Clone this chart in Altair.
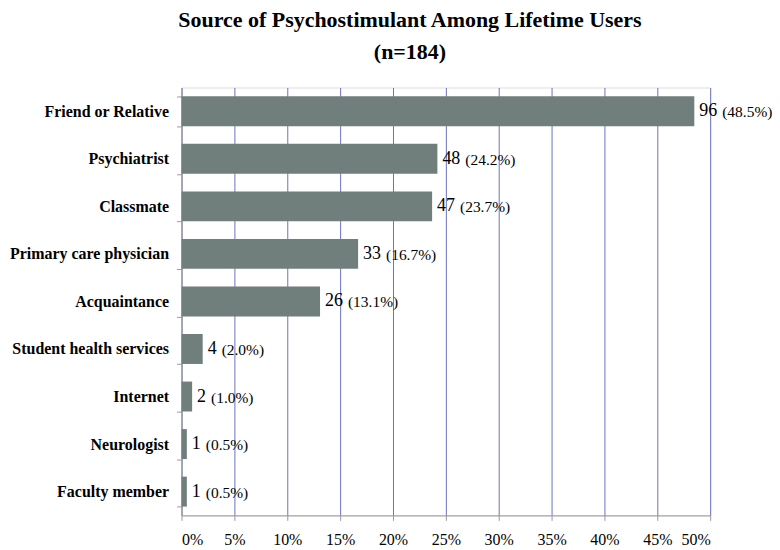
import altair as alt
import pandas as pd

sources = ["Friend or Relative", "Psychiatrist", "Classmate", "Primary care physician",
           "Acquaintance", "Student health services", "Internet", "Neurologist", "Faculty member"]
counts = [96, 48, 47, 33, 26, 4, 2, 1, 1]
pcts = [48.5, 24.2, 23.7, 16.7, 13.1, 2.0, 1.0, 0.5, 0.5]
x_ticks = [0, 5, 10, 15, 20, 25, 30, 35, 40, 45, 50]

df = pd.DataFrame({"source": sources, "count": counts, "pct": pcts})

SERIF = "Liberation Serif"
BAR = "#707f7c"
GRID = "#6c72c2"
AX = "#9a9a9a"

y_enc = alt.Y("source:N", sort=sources, title=None,
              scale=alt.Scale(paddingInner=0.37, paddingOuter=0.185),
              axis=alt.Axis(labelFont=SERIF, labelFontWeight="bold", labelFontSize=16,
                            labelColor="black", labelPadding=8, tickBand="extent",
                            tickColor=AX, tickSize=5, domainColor=AX, labelLimit=300))
x_enc = alt.X("pct:Q", title=None,
              scale=alt.Scale(domain=[0, 50], nice=False),
              axis=alt.Axis(values=x_ticks, labelExpr="datum.value + '%'",
                            labelFont=SERIF, labelFontSize=16, labelColor="black",
                            labelPadding=11, tickColor=AX, tickSize=5, domainColor=AX,
                            grid=True, gridColor=GRID, gridWidth=1))

base = alt.Chart(df)

bars = base.mark_bar(color=BAR).encode(x=x_enc, y=y_enc)

count_txt = base.mark_text(align="left", baseline="middle", dx=5, font=SERIF,
                           fontSize=18, color="black").encode(
    x="pct:Q", y=alt.Y("source:N", sort=sources), text="count:Q")

pct_lbl = base.transform_calculate(
    lbl="'(' + format(datum.pct, '.1f') + '%)'")

pct1 = pct_lbl.transform_filter("datum.count < 10").mark_text(
    align="left", baseline="middle", dx=19, dy=1, font=SERIF, fontSize=15.5, color="black").encode(
    x="pct:Q", y=alt.Y("source:N", sort=sources), text="lbl:N")
pct2 = pct_lbl.transform_filter("datum.count >= 10").mark_text(
    align="left", baseline="middle", dx=28, dy=1, font=SERIF, fontSize=15.5, color="black").encode(
    x="pct:Q", y=alt.Y("source:N", sort=sources), text="lbl:N")

chart = alt.layer(bars, count_txt, pct1, pct2).properties(
    width=530, height=429,
    autosize=alt.AutoSizeParams(type="none"),
    padding={"left": 174, "top": 79, "right": 62, "bottom": 34},
    title=alt.Title(["Source of Psychostimulant Among Lifetime Users", "(n=184)"],
                    font=SERIF, fontSize=22, fontWeight="bold", color="black",
                    lineHeight=32, anchor="middle", dx=-36, offset=16),
).configure_view(stroke=None).configure(background="white")

chart.save("out.html", embed_options={"renderer": "svg", "actions": False})
